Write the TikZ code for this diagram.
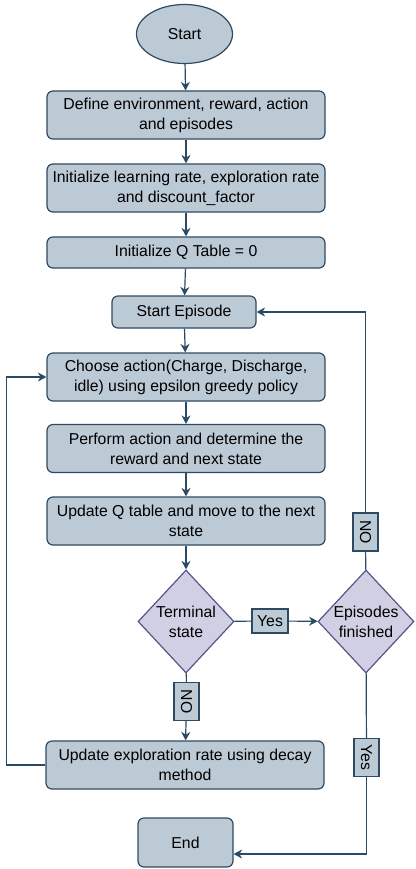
\documentclass[tikz,border=0pt]{standalone}
\usepackage{fontspec}
\setmainfont{Liberation Sans}
\usetikzlibrary{shapes.geometric, arrows.meta}

\definecolor{boxfill}{RGB}{188,202,214}
\definecolor{boxline}{RGB}{46,74,99}
\definecolor{decfill}{RGB}{209,207,228}
\definecolor{decline}{RGB}{88,84,134}
\definecolor{flowline}{RGB}{43,74,102}

\tikzset{
	stepbox/.style = {draw = boxline, fill = boxfill, line width = 1.2pt, rounded corners = 6pt, align = center, minimum width = 278pt, minimum height = 48pt, inner sep = 0pt},
	startstop/.style = {draw = boxline, fill = boxfill, line width = 1.2pt},
	decision/.style = {diamond, draw = decline, fill = decfill, line width = 1.2pt, minimum width = 96pt, minimum height = 103pt, inner sep = 0pt},
	tag/.style = {draw = boxline, fill = boxfill, line width = 1.2pt, inner sep = 0pt, minimum width = 36pt, minimum height = 24pt},
	flow/.style = {draw = flowline, line width = 1.2pt}
}

\begin{document}
\begin{tikzpicture}[x = 1pt, y = -1pt, font = \fontsize{15.8}{20}\selectfont, > = {Stealth[length = 8.5pt, width = 9pt]}]
	\useasboundingbox ( 0, 0 ) rectangle ( 415, 869 );

	% main column
	\node [startstop, ellipse, minimum width = 96pt, minimum height = 59pt] (start) at ( 184.5, 34 ) {Start};
	\node [stepbox] (define) at ( 186, 115 ) {Define environment, reward, action\\and episodes};
	\node [stepbox] (init) at ( 186, 188 ) {Initialize learning rate, exploration rate\\and discount\_factor};
	\node [stepbox, minimum height = 31pt] (qtable) at ( 186, 252.5 ) {Initialize Q Table = 0};
	\node [stepbox, minimum width = 144pt, minimum height = 32pt] (episode) at ( 184, 312 ) {Start Episode};
	\node [stepbox] (choose) at ( 186, 377 ) {Choose action(Charge, Discharge,\\idle) using epsilon greedy policy};
	\node [stepbox] (perform) at ( 186, 448.5 ) {Perform action and determine the\\reward and next state};
	\node [stepbox] (updq) at ( 186, 521 ) {Update Q table and move to the next\\state};
	\node [decision, label = {[align = center]center:Terminal\\state}] (term) at ( 186, 621.5 ) {};
	\node [stepbox] (updexp) at ( 185, 765 ) {Update exploration rate using decay\\method};
	\node [startstop, rounded corners = 6pt, minimum width = 95pt, minimum height = 49pt] (end) at ( 185.5, 842.5 ) {End};

	% right column
	\node [decision, label = {[align = center]center:Episodes\\finished}] (fin) at ( 366, 621.5 ) {};

	% tags
	\node [tag] (yes1) at ( 270, 621 ) {Yes};
	\node [tag, rotate = -90, minimum width = 38pt, minimum height = 25pt] (no1) at ( 365.5, 532 ) {NO};
	\node [tag, rotate = -90, minimum width = 38pt, minimum height = 25pt] (no2) at ( 186.5, 701.5 ) {NO};
	\node [tag, rotate = -90, minimum width = 38pt, minimum height = 25pt] (yes2) at ( 366.5, 757.5 ) {Yes};

	% arrows
	\draw [flow, ->] (start) -- (define);
	\draw [flow, ->] (define) -- (init);
	\draw [flow, ->] (init) -- (qtable);
	\draw [flow, ->] (qtable) -- (episode);
	\draw [flow, ->] (episode) -- (choose);
	\draw [flow, ->] (choose) -- (perform);
	\draw [flow, ->] (perform) -- (updq);
	\draw [flow, ->] (updq) -- (term);
	\draw [flow] (term) -- (yes1);
	\draw [flow, ->] (yes1) -- (fin);
	\draw [flow] (term) -- (no2);
	\draw [flow, ->] (no2) -- (updexp);
	\draw [flow, ->] (updexp.west) -- ++( -39, 0 ) |- (choose.west);
	\draw [flow] (fin) -- (no1);
	\draw [flow, ->] (no1) |- (episode.east);
	\draw [flow] (fin) -- (yes2);
	\draw [flow, ->] (yes2) |- ([yshift = -11.5pt] end.east);
\end{tikzpicture}
\end{document}
